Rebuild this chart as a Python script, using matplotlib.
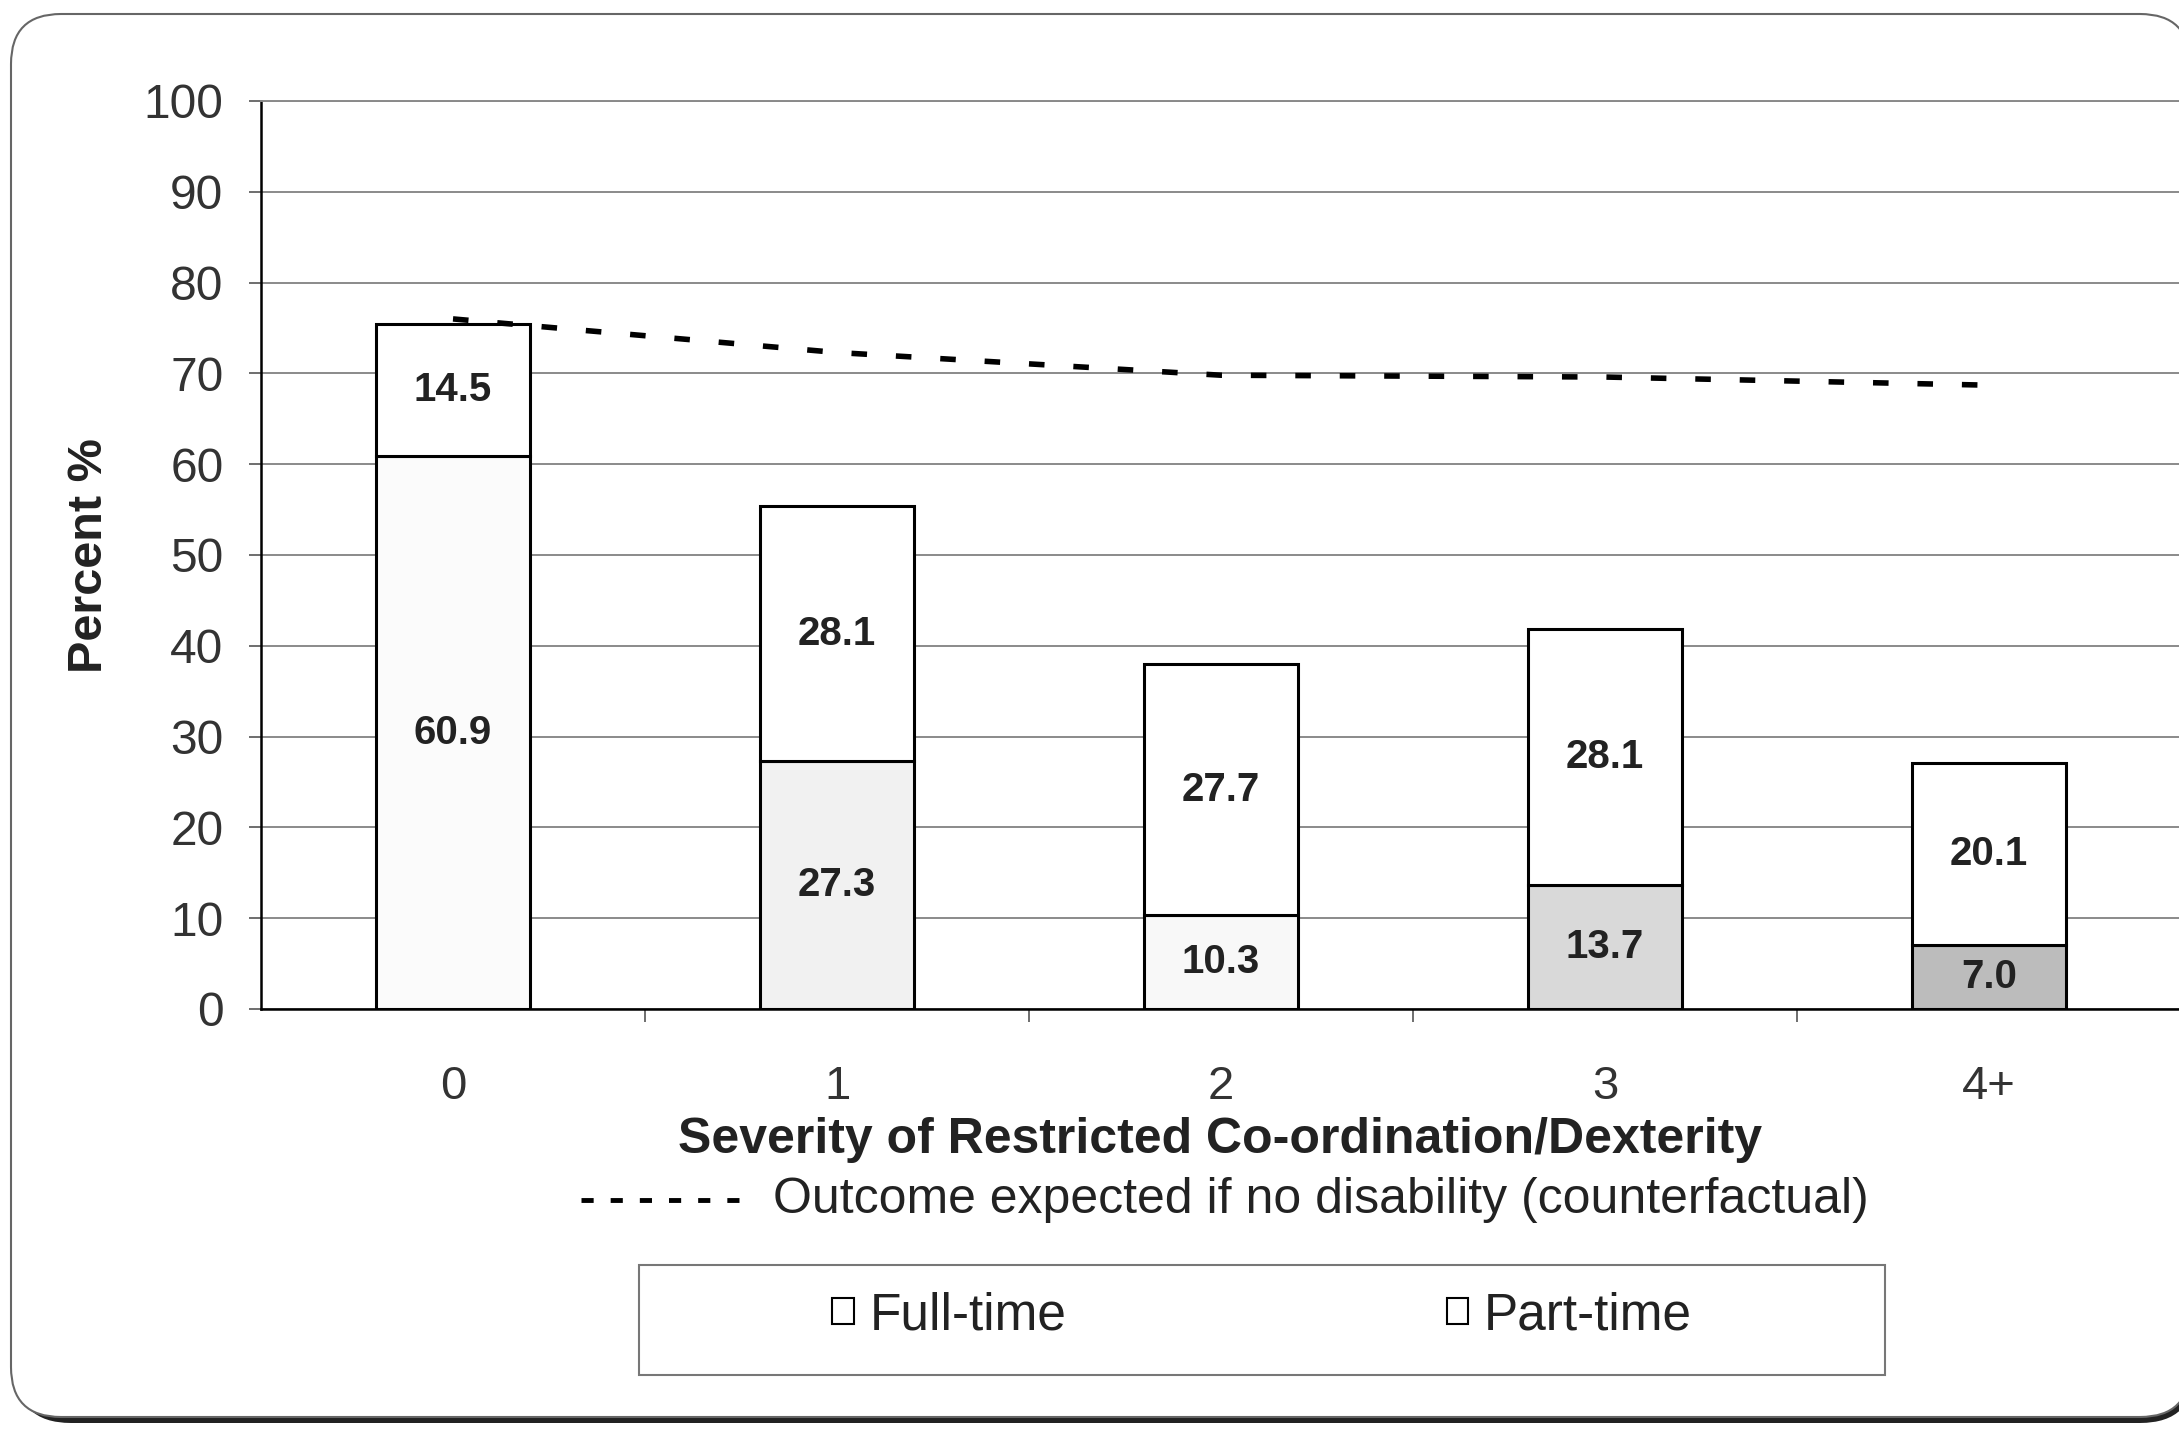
import matplotlib.pyplot as plt
from matplotlib.patches import FancyBboxPatch, Rectangle, Patch

plt.rcParams["font.family"] = ["Liberation Sans", "DejaVu Sans"]

W, H = 2179, 1433

categories = ["0", "1", "2", "3", "4+"]
full_time = [60.9, 27.3, 10.3, 13.7, 7.0]
part_time = [14.5, 28.1, 27.7, 28.1, 20.1]
counterfactual = [76.0, 72.3, 69.8, 69.6, 68.7]
full_time_colors = ["#fbfbfb", "#f1f1f1", "#f8f8f8", "#d9d9d9", "#bcbcbc"]

fig = plt.figure(figsize=(W / 100, H / 100), dpi=100)

# background layer in pixel coordinates (frame, legend box, notes)
bg = fig.add_axes([0, 0, 1, 1], zorder=0)
bg.set_xlim(0, W)
bg.set_ylim(H, 0)
bg.axis("off")

shadow = FancyBboxPatch(
    (16, 20), W, H - 30,
    boxstyle="round,pad=0,rounding_size=55",
    fc="#222222", ec="none",
)
frame = FancyBboxPatch(
    (11, 14), W, H - 30,
    boxstyle="round,pad=0,rounding_size=50",
    fc="white", ec="#666666", lw=1.5,
)
bg.add_patch(shadow)
bg.add_patch(frame)

# main chart
ax = fig.add_axes(
    [261 / W, 1 - 1009 / H, (2181 - 261) / W, (1009 - 101) / H],
    zorder=1,
)
ax.set_facecolor("none")
x = list(range(len(categories)))

ax.bar(x, full_time, width=0.4, color=full_time_colors,
       edgecolor="black", linewidth=2.2, zorder=3)
ax.bar(x, part_time, bottom=full_time, width=0.4, color="white",
       edgecolor="black", linewidth=2.2, zorder=3)
ax.plot(x, counterfactual, color="black", lw=4,
        linestyle=(0, (2.8, 5.2)), dash_capstyle="butt", zorder=4)

for i in x:
    ax.text(i, full_time[i] / 2, f"{full_time[i]:.1f}", ha="center",
            va="center", fontsize=29, fontweight="bold", color="#222", zorder=5)
    ax.text(i, full_time[i] + part_time[i] / 2, f"{part_time[i]:.1f}",
            ha="center", va="center", fontsize=29, fontweight="bold",
            color="#222", zorder=5)

ax.set_xlim(-0.5, 4.5)
ax.set_ylim(0, 100)
ax.set_yticks(range(0, 101, 10))
ax.yaxis.grid(True, color="#8a8a8a", lw=1.4)
ax.set_axisbelow(True)
ax.tick_params(axis="y", length=9, width=1.2, pad=18, labelsize=34.5,
               color="#555", labelcolor="#333")

ax.set_xticks(x)
ax.set_xticklabels(categories)
ax.set_xticks([0.5, 1.5, 2.5, 3.5], minor=True)
ax.tick_params(axis="x", which="major", length=0, pad=40, labelsize=34,
               labelcolor="#333")
ax.tick_params(axis="x", which="minor", length=9, width=1.2, color="#555")

ax.spines["right"].set_visible(False)
ax.spines["top"].set_color("#8a8a8a")
ax.spines["top"].set_linewidth(1.4)
for side in ["left", "bottom"]:
    ax.spines[side].set_color("black")
    ax.spines[side].set_linewidth(1.8)

fig.text(90 / W, 1 - 556 / H, "Percent %", rotation=90, ha="center",
         va="center", fontsize=35, fontweight="bold", color="#222")
fig.text(1220 / W, 1 - 1140 / H,
         "Severity of Restricted Co-ordination/Dexterity",
         ha="center", va="center", fontsize=36, fontweight="bold",
         color="#222")

# counterfactual note
bg.plot([581, 748], [1200, 1200], color="black", lw=3.5,
        linestyle=(0, (2.5, 3.5)), dash_capstyle="butt")
bg.text(773, 1200, "Outcome expected if no disability (counterfactual)",
        ha="left", va="center", fontsize=36, color="#222")

# legend box
bg.add_patch(Rectangle((639, 1265), 1246, 110, fc="white", ec="#777777",
                       lw=1.5))
handles = [
    Patch(facecolor="white", edgecolor="black", linewidth=1.5),
    Patch(facecolor="white", edgecolor="black", linewidth=1.5),
]
fig.legend(
    handles, ["Full-time", "Part-time"],
    loc="center", bbox_to_anchor=(1262 / W, 1 - 1316 / H),
    ncol=2, frameon=False, fontsize=37,
    handlelength=0.42, handleheight=0.42, handletextpad=0.3,
    columnspacing=7.4, labelcolor="#222",
)

fig.savefig("out.png", dpi=100)
plt.close(fig)
